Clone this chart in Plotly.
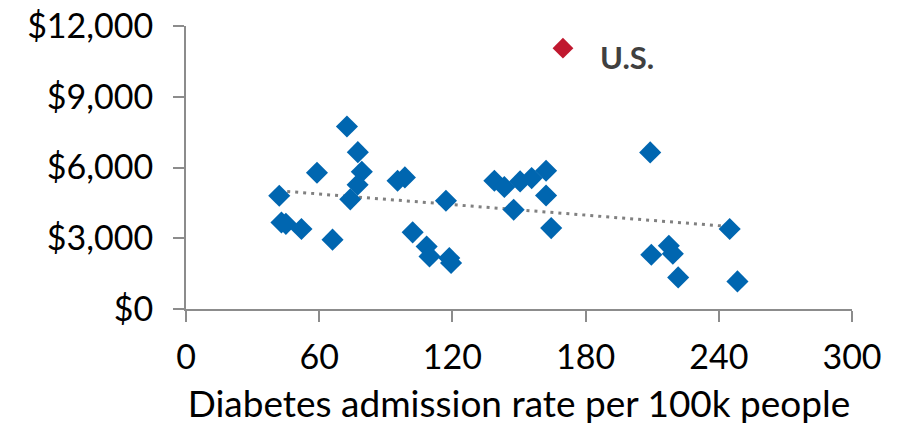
import plotly.graph_objects as go

# Diabetes admission rate per 100k people (x) vs spending (y)
admission_rate = [42, 43, 45, 52, 59, 66, 72.5, 77.4, 79.2, 77.3, 74, 95.3, 98.6, 102.1,
                  108.4, 109.7, 117.1, 118.6, 119.4, 138.9, 143.4, 150.5, 155.7, 162.2,
                  162.2, 147.6, 164.5, 209.1, 209.6, 217.5, 219.3, 221.7, 244.9, 248.4]
spending = [4800, 3670, 3610, 3390, 5780, 2940, 7740, 6650, 5820, 5270, 4650, 5440, 5580, 3250,
            2650, 2230, 4590, 2160, 1950, 5440, 5170, 5410, 5550, 5860,
            4810, 4210, 3430, 6640, 2300, 2680, 2340, 1340, 3390, 1170]

us_rate = [169.8]
us_spending = [11060]
us_label = "U.S."

# trendline endpoints
trend_x = [42, 247]
trend_y = [5010, 3480]

x_ticks = [0, 60, 120, 180, 240, 300]
y_ticks = [0, 3000, 6000, 9000, 12000]
y_tick_labels = ["$0", "$3,000", "$6,000", "$9,000", "$12,000"]
x_title = "Diabetes admission rate per 100k people"

FONT = "Lato"
BLUE = "#0066B0"
RED = "#C0182F"
AXIS = "#8C8C8C"

fig = go.Figure()
fig.add_trace(go.Scatter(x=trend_x, y=trend_y, mode="lines",
                         line=dict(color="#808080", width=3, dash="3px,5px"),
                         hoverinfo="skip", showlegend=False))
fig.add_trace(go.Scatter(x=admission_rate, y=spending, mode="markers",
                         marker=dict(symbol="diamond", size=17, color=BLUE),
                         showlegend=False))
fig.add_trace(go.Scatter(x=us_rate, y=us_spending, mode="markers",
                         marker=dict(symbol="diamond", size=16, color=RED),
                         showlegend=False))
fig.add_annotation(x=us_rate[0], y=us_spending[0], xref="x", yref="y",
                   text="<b>" + us_label + "</b>", showarrow=False,
                   xanchor="left", yanchor="middle", xshift=35, yshift=-9,
                   font=dict(family=FONT, size=31, color="#404040"))

fig.update_layout(
    width=895, height=426,
    margin=dict(l=178, r=51, t=18, b=125),
    paper_bgcolor="white", plot_bgcolor="white",
    font=dict(family=FONT, size=34, color="#000000"),
)
fig.update_xaxes(range=[0, 300], tickvals=x_ticks, ticktext=[str(v) for v in x_ticks],
                 showgrid=False, zeroline=False, showline=True, linecolor=AXIS, linewidth=2,
                 ticks="outside", ticklen=11, tickwidth=2, tickcolor=AXIS, ticklabelstandoff=6,
                 ticklabeloverflow="allow",
                 tickfont=dict(family=FONT, size=34), automargin=False,
                 title=dict(text=x_title, font=dict(family=FONT, size=37), standoff=16))
fig.update_yaxes(range=[0, 12000], tickvals=y_ticks, ticktext=y_tick_labels,
                 showgrid=False, zeroline=False, showline=True, linecolor=AXIS, linewidth=2,
                 ticks="outside", ticklen=11, tickwidth=2, tickcolor=AXIS, ticklabelstandoff=13,
                 ticklabeloverflow="allow",
                 tickfont=dict(family=FONT, size=34), automargin=False)

fig.write_html("out.html")
